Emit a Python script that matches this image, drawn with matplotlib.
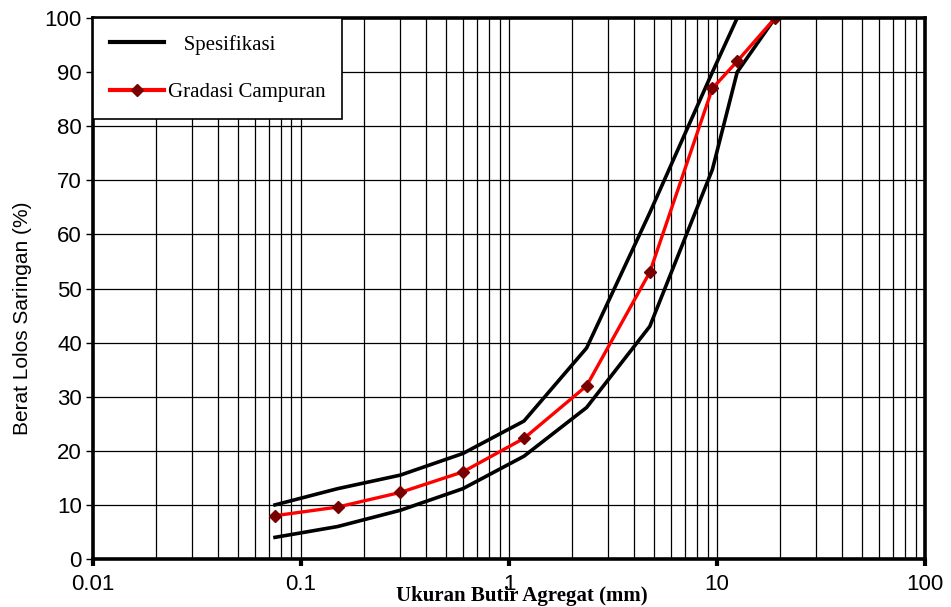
import matplotlib.pyplot as plt
import numpy as np
from matplotlib.lines import Line2D
from matplotlib.ticker import FixedLocator, NullFormatter

# Sieve sizes (mm) and percent passing
sieve = [0.075, 0.15, 0.3, 0.6, 1.18, 2.36, 4.75, 9.5, 12.5, 19.0]
spec_upper = [10, 13, 15.5, 19.5, 25.5, 39, 64, 90, 100, 100]
spec_lower = [4, 6, 9, 13, 19, 28, 43, 72, 90, 100]
campuran = [8, 9.6, 12.3, 16.1, 22.3, 32, 53, 87, 92, 100]

x_ticks = [0.01, 0.1, 1, 10, 100]
x_ticklabels = ['0.01', '0.1', '1', '10', '100']
y_ticks = list(range(0, 101, 10))

fig = plt.figure(figsize=(9.51, 6.07), dpi=100)
ax = fig.add_axes([0.0978, 0.0791, 0.8749, 0.8912])

ax.set_xscale('log')
ax.set_xlim(0.01, 100)
ax.set_ylim(0, 100)

# grid at every minor/major log position and every 10 %
minor_pos = [m * 10.0 ** e for e in range(-2, 2) for m in range(1, 10)][1:]
for xv in minor_pos:
    ax.axvline(xv, color='black', lw=0.9, zorder=1)
for yv in y_ticks[1:-1]:
    ax.axhline(yv, color='black', lw=0.9, zorder=1)

ax.plot(sieve, spec_upper, color='black', lw=2.6, zorder=3)
ax.plot(sieve, spec_lower, color='black', lw=2.6, zorder=3)
ax.plot(sieve, campuran, color='#ff0000', lw=2.4, marker='D', markersize=6,
        markerfacecolor='#7a0000', markeredgecolor='#7a0000', zorder=4)

ax.xaxis.set_major_locator(FixedLocator(x_ticks))
ax.set_xticklabels(x_ticklabels)
ax.xaxis.set_minor_formatter(NullFormatter())
ax.tick_params(axis='x', which='minor', length=0)
ax.tick_params(axis='x', which='major', length=5, width=3, direction='out',
               labelsize=16, pad=6)
ax.set_yticks(y_ticks)
ax.tick_params(axis='y', length=5, width=1, direction='out', labelsize=16, pad=3)
for lab in ax.get_xticklabels() + ax.get_yticklabels():
    lab.set_family('Liberation Sans')

for sp in ax.spines.values():
    sp.set_linewidth(2.6)
    sp.set_zorder(5)

ax.set_ylabel('Berat Lolos Saringan (%)', fontsize=15, family='Liberation Sans')
ax.yaxis.set_label_coords(-0.085, 0.445)
ax.yaxis.label.set_va('center')
ax.set_xlabel('Ukuran Butir Agregat (mm)', fontsize=15, family='Liberation Serif',
              fontweight='bold')
ax.xaxis.set_label_coords(0.5156, -0.05)

handles = [
    Line2D([], [], color='black', lw=3),
    Line2D([], [], color='#ff0000', lw=3, marker='D', markersize=6,
           markerfacecolor='#7a0000', markeredgecolor='#7a0000'),
]
leg = ax.legend(handles, ['   Spesifikasi', 'Gradasi Campuran'], loc='upper left',
                bbox_to_anchor=(0.0, 1.0), borderaxespad=0, fancybox=False,
                framealpha=1, edgecolor='black', handlelength=2.6,
                labelspacing=1.35, borderpad=0.8, handletextpad=0.2,
                prop={'family': 'Liberation Serif', 'size': 15})
leg.get_frame().set_linewidth(1.2)
leg.set_zorder(6)

plt.savefig('out.png', dpi=100)
